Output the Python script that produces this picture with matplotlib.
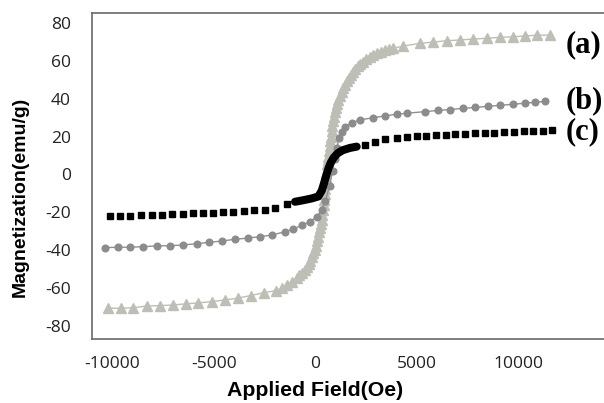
import matplotlib
matplotlib.use("Agg")
import matplotlib.pyplot as plt

plt.rcParams['axes.unicode_minus'] = False

# ---- data (Applied field in Oe, magnetization in emu/g) ----
field_a = [-10205, -9594, -8972, -8282, -7656, -7031, -6390, -5768, -5108, -4452,
           -3826, -3185, -2529, -1937, -1650, -1400, -1150, -917, -780, -650,
           -530, -424, -330, -250, -170, -99, -30, 30, 90, 148,
           200, 240, 280, 315, 350, 380, 410, 430, 455, 480,
           505, 527, 545, 560, 590, 615, 640, 670, 700, 730,
           760, 800, 840, 880, 920, 970, 1030, 1080, 1140, 1220,
           1300, 1380, 1460, 1550, 1650, 1750, 1860, 1980, 2100, 2220,
           2350, 2520, 2700, 2860, 3030, 3230, 3430, 3630, 3830, 4340,
           5160, 5820, 6480, 7130, 7790, 8450, 9110, 9760, 10340, 10910, 11570]
mag_a = [-70.6, -70.6, -70.3, -69.4, -69.2, -68.9, -68.3, -67.8, -67.1, -66.2,
         -65.3, -63.9, -62.4, -61.3, -60.0, -58.5, -56.8, -54.8, -53.3, -51.8,
         -50.2, -48.6, -47.0, -45.5, -43.6, -41.6, -39.6, -37.5, -35.2, -32.8,
         -30.6, -28.5, -26.3, -24.0, -21.5, -19.0, -16.3, -13.5, -10.5, -7.5,
         -4.3, -1.2, 1.0, 2.2, 5.5, 7.5, 9.4, 12.3, 15.0, 17.6,
         20.0, 22.8, 25.5, 28.1, 30.5, 32.9, 35.2, 37.3, 39.3, 41.5,
         43.5, 45.4, 47.2, 49.2, 51.0, 52.7, 54.3, 55.8, 57.2, 58.4,
         59.5, 60.8, 62.0, 63.0, 64.0, 64.8, 65.5, 66.1, 66.6, 67.8,
         69.2, 69.9, 70.6, 71.0, 71.5, 71.9, 72.4, 72.7, 73.1, 73.5, 73.6]

field_b = [-10368, -9712, -9135, -8480, -7819, -7163, -6508, -5847, -5226, -4585,
           -3959, -3333, -2726, -2150, -1494, -1085, -672, -261, 69, 315,
           500, 700, 850, 950, 1050, 1180, 1300, 1460, 1790, 2200,
           2860, 3440, 4010, 4500, 5410, 6060, 6640, 7300, 7870, 8530,
           9110, 9760, 10340, 10830, 11320]
mag_b = [-38.6, -38.4, -38.4, -38.1, -37.7, -37.6, -37.2, -36.5, -35.8, -35.1,
         -34.2, -33.6, -32.8, -32.0, -30.2, -28.8, -26.8, -24.9, -22.3, -18.7,
         -14.0, -6.0, 2.0, 8.0, 14.0, 19.1, 22.6, 25.2, 27.3, 28.8,
         30.0, 30.9, 31.8, 32.3, 33.2, 33.8, 34.3, 34.9, 35.4, 36.0,
         36.5, 37.1, 37.6, 38.1, 38.6]

# sample (c): sparse squares at both ends, dense measurement region in the middle
field_c = [-10121, -9628, -9135, -8608, -8066, -7573, -7050, -6537, -6044, -5521,
           -5029, -4536, -4043, -3515, -3022, -2480, -1987, -1410,
           2450, 2940, 3460, 4010, 4500, 4990, 5470, 5950, 6430, 6910,
           7390, 7870, 8350, 8830, 9310, 9790, 10270, 10750, 11210, 11650]
mag_c = [-21.9, -21.9, -21.7, -21.4, -21.4, -21.2, -20.7, -20.7, -20.5, -20.3,
         -20.1, -19.9, -19.6, -19.4, -19.0, -18.7, -17.9, -15.4,
         15.6, 17.3, 18.6, 19.4, 19.9, 20.2, 20.5, 20.8, 21.0, 21.3,
         21.5, 21.7, 21.9, 22.1, 22.4, 22.6, 22.8, 23.0, 23.2, 23.5]
field_c_dense = [-1000, -600, -200, 150, 320, 420, 500, 580, 660, 760,
                 900, 1100, 1350, 1700, 2040]
mag_c_dense = [-14.4, -13.6, -12.7, -11.6, -8.5, -5.0, -2.0, 1.0, 3.6, 6.2,
               8.8, 11.2, 12.8, 14.0, 14.7]

x_ticks = [-10000, -5000, 0, 5000, 10000]
y_ticks = [-80, -60, -40, -20, 0, 20, 40, 60, 80]
labels = ["(a)", "(b)", "(c)"]

# ---- figure ----
W, H = 604, 403
fig = plt.figure(figsize=(W / 100, H / 100), dpi=100)
left, right, top, bottom = 91.7, 604, 12.7, 339.3
ax = fig.add_axes([left / W, 1 - bottom / H, (right - left) / W, (bottom - top) / H])

col_a = '#bdbfb7'
col_b = '#8c8c8c'

ax.plot(field_a, mag_a, color=col_a, lw=1.0, marker='^', ms=6.8,
        markerfacecolor=col_a, markeredgecolor=col_a, zorder=2)
ax.plot(field_b, mag_b, color='#8a909a', lw=1.0, marker='o', ms=4.8,
        markerfacecolor=col_b, markeredgecolor=col_b, zorder=3)
ax.plot(field_c_dense, mag_c_dense, color='black', lw=5.8,
        solid_capstyle='round', solid_joinstyle='round', zorder=4)
ax.plot(field_c, mag_c, linestyle='none', marker='s', ms=5,
        color='black', zorder=4)

ax.set_xlim(-11024, 14233)
ax.set_ylim(-87.0, 85.4)
ax.set_xticks(x_ticks)
ax.set_yticks(y_ticks)
tick_font = dict(family='Open Sans', size=12.5)
ax.set_xticklabels([str(v) for v in x_ticks], fontdict=tick_font, color='#222222')
ax.set_yticklabels([str(v) for v in y_ticks], fontdict=tick_font, color='#222222')
ax.tick_params(axis='x', length=0, pad=12)
ax.tick_params(axis='y', length=0, pad=15)

for s in ['left', 'top', 'bottom']:
    ax.spines[s].set_color('#6a6a6a')
    ax.spines[s].set_linewidth(1.2)
ax.spines['right'].set_visible(False)

fig.text(315 / W, 1 - 391 / H, 'Applied Field(Oe)', ha='center', va='center',
         fontsize=15.3, fontweight='bold', family='Liberation Sans')
fig.text(20 / W, 1 - 197 / H, 'Magnetization(emu/g)', ha='center', va='center',
         rotation=90, fontsize=14, fontweight='bold', family='Liberation Sans')

for lab, ypix in zip(labels, [45, 101, 132]):
    fig.text(566 / W, 1 - ypix / H, lab, ha='left', va='center',
             fontsize=22, fontweight='bold', family='Liberation Serif')

fig.savefig('out.png', dpi=100)
